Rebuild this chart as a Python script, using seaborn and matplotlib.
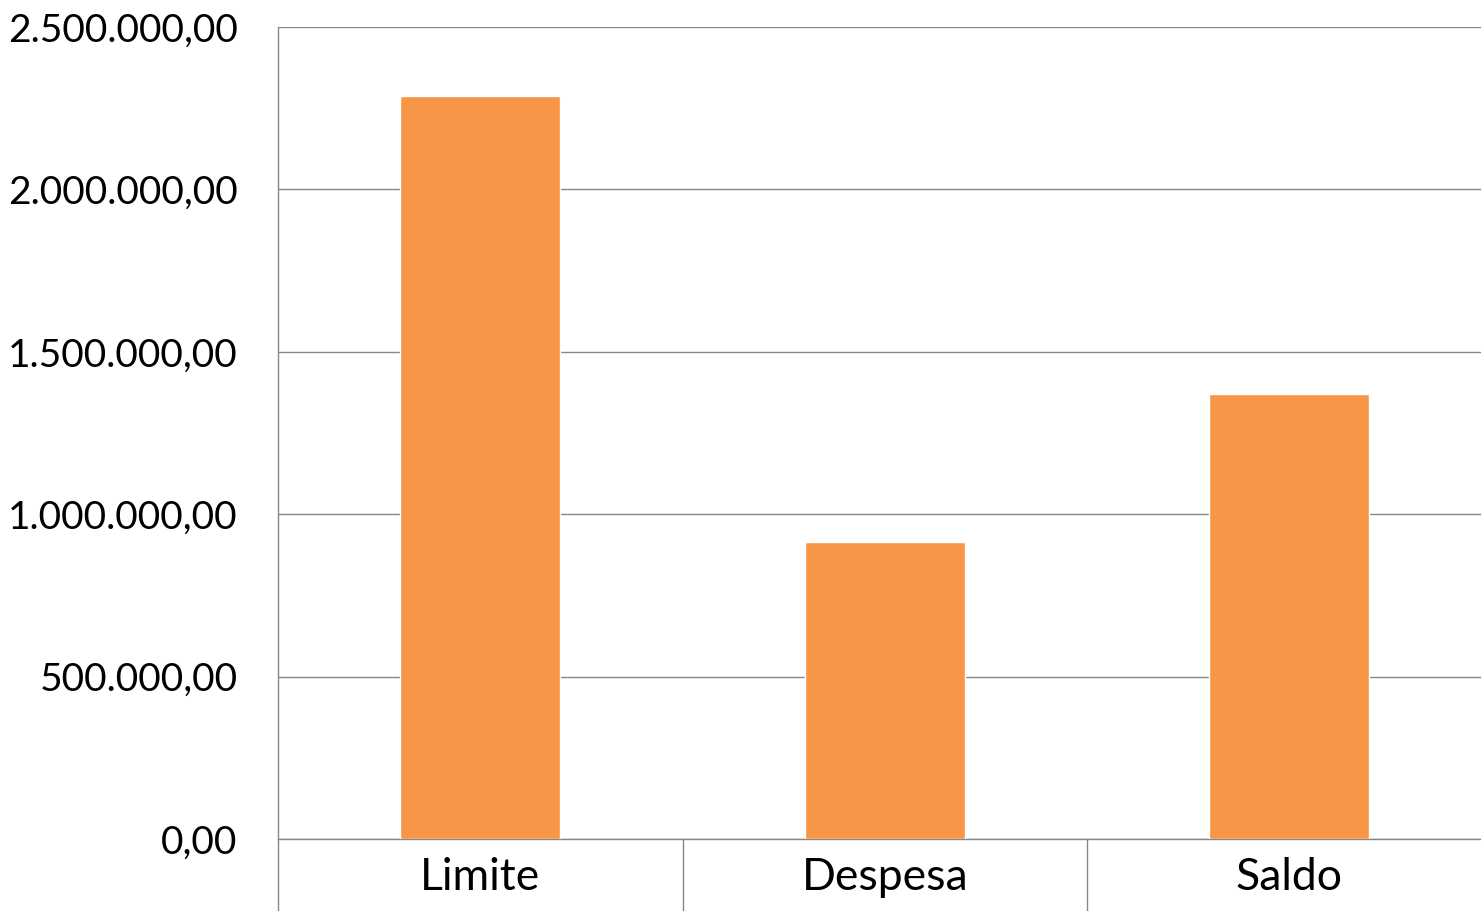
import matplotlib
matplotlib.use("Agg")
import matplotlib.pyplot as plt
import matplotlib.ticker as mticker
import seaborn as sns
import pandas as pd

# values
categorias = ["Limite", "Despesa", "Saldo"]
valores = [2287000, 914000, 1370000]

df = pd.DataFrame({"categoria": categorias, "valor": valores})

sns.set_theme(style="white")
plt.rcParams["font.family"] = ["Lato", "DejaVu Sans"]

fig = plt.figure(figsize=(14.81, 9.11), dpi=100)
ax = fig.add_axes([278 / 1481, 72 / 911, 1213.5 / 1481, 812 / 911])

sns.barplot(data=df, x="categoria", y="valor", color="#F79646", width=0.395,
            saturation=1, ax=ax, zorder=3)

ax.set_ylim(0, 2500000)
ax.set_xlim(-0.5, 2.5)
ax.yaxis.set_major_locator(mticker.MultipleLocator(500000))


def fmt_br(v, pos):
    s = f"{v:,.2f}"
    return s.replace(",", "X").replace(".", ",").replace("X", ".")


ax.yaxis.set_major_formatter(mticker.FuncFormatter(fmt_br))
ax.grid(axis="y", color="#878787", linewidth=1.0, zorder=0)
ax.set_axisbelow(True)

for s in ["top", "right"]:
    ax.spines[s].set_visible(False)
ax.spines["left"].set_color("#878787")
ax.spines["bottom"].set_color("#878787")
ax.spines["left"].set_linewidth(1.0)
ax.spines["bottom"].set_linewidth(1.0)

ax.tick_params(axis="y", length=0, pad=29, labelsize=28, labelcolor="black")
ax.tick_params(axis="x", which="major", length=0, pad=13, labelsize=32, labelcolor="black")
ax.set_xticks([-0.5, 0.5, 1.5, 2.5], minor=True)
ax.tick_params(axis="x", which="minor", bottom=True, length=52, width=1.0,
               color="#878787", direction="out")

ax.set_xlabel("")
ax.set_ylabel("")

fig.savefig("out.png", dpi=100)
